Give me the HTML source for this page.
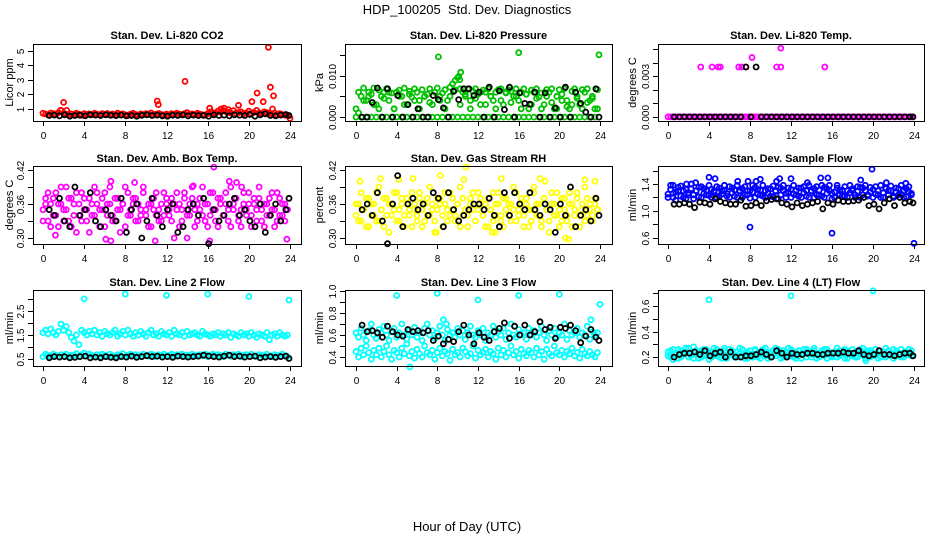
<!DOCTYPE html>
<html><head><meta charset="utf-8"><style>
html,body{margin:0;padding:0;background:#fff;}
svg{display:block;font-family:"Liberation Sans",Arial,sans-serif;}
</style></head><body>
<svg id="chart" width="936" height="540" viewBox="0 0 936 540" xmlns="http://www.w3.org/2000/svg">
<text x="467" y="14" font-size="13" text-anchor="middle">HDP_100205&#160; Std. Dev. Diagnostics</text>
<text x="467" y="531" font-size="13" text-anchor="middle">Hour of Day (UTC)</text>
</svg>
<script>
const H96=[0,.25,.5,.75,1,1.25,1.5,1.75,2,2.25,2.5,2.75,3,3.25,3.5,3.75,4,4.25,4.5,4.75,5,5.25,5.5,5.75,6,6.25,6.5,6.75,7,7.25,7.5,7.75,8,8.25,8.5,8.75,9,9.25,9.5,9.75,10,10.25,10.5,10.75,11,11.25,11.5,11.75,12,12.25,12.5,12.75,13,13.25,13.5,13.75,14,14.25,14.5,14.75,15,15.25,15.5,15.75,16,16.25,16.5,16.75,17,17.25,17.5,17.75,18,18.25,18.5,18.75,19,19.25,19.5,19.75,20,20.25,20.5,20.75,21,21.25,21.5,21.75,22,22.25,22.5,22.75,23,23.25,23.5,23.75];
const H48=[.6,1.1,1.6,2.1,2.6,3.1,3.6,4.1,4.6,5.1,5.6,6.1,6.6,7.1,7.6,8.1,8.6,9.1,9.6,10.1,10.6,11.1,11.6,12.1,12.6,13.1,13.6,14.1,14.6,15.1,15.6,16.1,16.6,17.1,17.6,18.1,18.6,19.1,19.6,20.1,20.6,21.1,21.6,22.1,22.6,23.1,23.6,23.9];
const xTicks=[0,4,8,12,16,20,24];

// CO2
const co2Vals=[0.7,0.65,0.6,0.72,0.68,0.62,0.75,0.9,0.7,0.64,0.58,0.66,0.6,0.7,0.63,0.57,0.68,0.61,0.66,0.59,0.7,0.64,0.6,0.67,0.62,0.69,0.58,0.65,0.6,0.71,0.63,0.66,0.6,0.55,0.64,0.7,0.62,0.58,0.66,0.61,0.68,0.63,0.72,0.6,0.65,0.69,0.62,0.57,0.64,0.6,0.67,0.63,0.7,0.65,0.6,0.68,0.74,0.62,0.66,0.6,0.7,0.64,0.6,0.58,0.67,0.8,0.75,0.7,0.85,0.78,0.9,0.82,0.76,0.72,0.88,0.7,0.74,0.8,0.68,0.72,0.85,0.7,0.76,0.9,0.72,0.68,0.8,0.75,0.7,0.65,0.72,0.6,0.68,0.62,0.58,0.55];
const co2OutHours=[1.7,2,2.3,11.1,11.2,13.8,16.2,17.3,17.6,18,19,20.3,20.8,21.4,21.9,22.1,22.3,22.4,24];
const co2OutVals=[0.9,1.45,0.9,1.55,1.3,2.9,1.05,1.0,1.05,0.95,1.25,1.5,2.1,1.5,5.25,2.5,1.0,1.9,0.35];
const co2Black=[0.55,0.58,0.52,0.6,0.5,0.55,0.57,0.52,0.6,0.58,0.55,0.6,0.57,0.54,0.58,0.52,0.55,0.5,0.56,0.6,0.55,0.58,0.53,0.5,0.57,0.55,0.6,0.52,0.58,0.54,0.56,0.5,0.6,0.55,0.58,0.52,0.6,0.57,0.55,0.62,0.5,0.6,0.66,0.55,0.52,0.58,0.62,0.55];

// Pressure
const presVals=[0.002,0.006,0.005,0.007,0.004,0.006,0.0055,0.007,0.003,0.0065,0.005,0.006,0.0068,0.004,0.0058,0.002,0.006,0.0065,0.005,0.007,0.003,0.0062,0.0048,0.0068,0.006,0.004,0.0066,0.005,0.0055,0.0068,0.003,0.006,0.007,0.005,0.0058,0.0066,0.004,0.0072,0.008,0.0088,0.0095,0.0068,0.006,0.005,0.0068,0.004,0.0062,0.0068,0.0055,0.003,0.0065,0.006,0.0068,0.005,0.004,0.006,0.0066,0.0068,0.003,0.0058,0.0066,0.0062,0.005,0.0068,0.004,0.006,0.0068,0.0055,0.002,0.0065,0.006,0.0068,0.0048,0.0058,0.003,0.0066,0.006,0.0068,0.002,0.005,0.0066,0.0055,0.0068,0.004,0.002,0.0062,0.0068,0.005,0.003,0.0066,0.006,0.0068,0.004,0.0045,0.002,0.0066];
const presVals2=[0,0.001,0,0.004,0,0.005,0,0.003,0,0.002,0,0.0045,0,0.006,0,0.002,0,0.005,0,0.003,0,0.0055,0,0.004,0,0.002,0,0.005,0,0.0035,0,0.006,0,0.004,0,0.002,0,0.005,0,0.0065,0,0.003,0,0.0055,0,0.002,0,0.0045,0,0.006,0,0.003,0,0.005,0,0.002,0,0.004,0,0.006,0,0.0035,0,0.005,0,0.002,0,0.0055,0,0.003,0,0.0045,0,0.002,0,0.005,0,0.0035,0,0.002,0,0.004,0,0.0025,0,0.003,0,0.0045,0,0.002,0,0.0035,0,0.005,0,0.002];
const presOutHours=[8.1,10.1,10.3,10.2,16,23.9];
const presOutVals=[0.0145,0.0098,0.0108,0.009,0.0155,0.015];
const presBlack=[0,0,0.0035,0.007,0,0.0068,0,0.0052,0,0.003,0,0.002,0,0,0.0052,0.0042,0.0022,0,0.0062,0.0042,0.0068,0.0068,0.0052,0.006,0,0.0072,0,0.0063,0.0018,0.0072,0,0.0058,0.0033,0.0031,0.006,0,0.0058,0,0.0022,0,0.0072,0,0.006,0.0033,0.0012,0,0.0068,0];

// Temp
const tempVals=[0,0,0,0,0,0,0,0,0,0,0,0,0,0,0,0,0,0,0,0,0,0,0,0,0,0,0,0,0,0,0,0,0,0,0,0,0,0,0,0,0,0,0,0,0,0,0,0,0,0,0,0,0,0,0,0,0,0,0,0,0,0,0,0,0,0,0,0,0,0,0,0,0,0,0,0,0,0,0,0,0,0,0,0,0,0,0,0,0,0,0,0,0,0,0,0];
const tempOutHours=[3.2,4.3,4.9,5.1,6.9,7.2,7.6,8.2,10.6,11.0,11.0,15.3];
const tempOutVals=[0.0037,0.0037,0.0037,0.0037,0.0037,0.0037,0.0037,0.0044,0.0037,0.0037,0.0051,0.0037];
const tempBlack=[0,0,0,0,0,0,0,0,0,0,0,0,0,0,0.0037,0,0.0037,0,0,0,0,0,0,0,0,0,0,0,0,0,0,0,0,0,0,0,0,0,0,0,0,0,0,0,0,0,0,0];

// Amb box temp
const ambVals=[0.35,0.37,0.33,0.36,0.34,0.38,0.32,0.36,0.35,0.39,0.33,0.37,0.34,0.31,0.36,0.38,0.35,0.33,0.37,0.34,0.39,0.36,0.32,0.35,0.38,0.34,0.36,0.33,0.37,0.35,0.31,0.36,0.39,0.34,0.35,0.37,0.33,0.36,0.34,0.38,0.35,0.32,0.36,0.37,0.34,0.35,0.33,0.38,0.36,0.34,0.37,0.3,0.35,0.36,0.33,0.38,0.35,0.34,0.37,0.32,0.36,0.35,0.39,0.33,0.36,0.34,0.38,0.35,0.32,0.37,0.34,0.36,0.33,0.39,0.35,0.37,0.34,0.32,0.36,0.35,0.38,0.34,0.36,0.33,0.37,0.35,0.32,0.36,0.34,0.38,0.35,0.33,0.37,0.34,0.36,0.35];
const ambVals2=[0.33,0.36,0.38,0.32,0.37,0.34,0.36,0.39,0.33,0.35,0.37,0.32,0.36,0.38,0.34,0.33,0.37,0.35,0.31,0.36,0.34,0.38,0.35,0.37,0.32,0.36,0.39,0.34,0.33,0.37,0.35,0.36,0.32,0.38,0.34,0.36,0.37,0.33,0.35,0.39,0.34,0.36,0.32,0.35,0.38,0.33,0.36,0.34,0.37,0.35,0.33,0.36,0.38,0.32,0.35,0.37,0.34,0.36,0.39,0.35,0.33,0.37,0.34,0.36,0.32,0.38,0.35,0.33,0.37,0.36,0.34,0.38,0.35,0.32,0.36,0.37,0.33,0.35,0.38,0.34,0.36,0.32,0.37,0.35,0.39,0.33,0.36,0.34,0.37,0.35,0.32,0.38,0.34,0.36,0.33,0.35];
const ambOutHours=[6.6,16.6,18.1,18.8,1.2,6.1,6.6,10.9,14,16.2,23.7,8.9,14.6,19.3];
const ambOutVals=[0.40,0.425,0.40,0.398,0.305,0.298,0.295,0.295,0.30,0.295,0.298,0.398,0.392,0.39];
const ambBlack=[0.35,0.34,0.37,0.33,0.32,0.39,0.34,0.35,0.38,0.33,0.32,0.35,0.34,0.33,0.37,0.31,0.35,0.36,0.3,0.33,0.37,0.34,0.32,0.35,0.36,0.31,0.32,0.35,0.36,0.34,0.37,0.29,0.35,0.33,0.34,0.36,0.37,0.34,0.35,0.33,0.32,0.36,0.31,0.34,0.36,0.33,0.35,0.37];

// RH
const rhVals=[0.34,0.36,0.33,0.35,0.37,0.32,0.36,0.34,0.38,0.33,0.35,0.37,0.34,0.31,0.36,0.35,0.38,0.33,0.36,0.34,0.37,0.35,0.32,0.36,0.34,0.38,0.35,0.33,0.37,0.34,0.36,0.31,0.35,0.37,0.34,0.36,0.33,0.38,0.35,0.34,0.36,0.32,0.37,0.35,0.34,0.36,0.38,0.33,0.35,0.37,0.34,0.36,0.32,0.35,0.38,0.34,0.36,0.33,0.37,0.35,0.34,0.36,0.39,0.33,0.35,0.37,0.34,0.36,0.32,0.35,0.38,0.34,0.36,0.33,0.37,0.35,0.31,0.36,0.34,0.38,0.35,0.33,0.37,0.34,0.36,0.32,0.35,0.38,0.34,0.36,0.33,0.37,0.35,0.34,0.36,0.35];
const rhVals2=[0.36,0.33,0.38,0.35,0.32,0.37,0.34,0.36,0.33,0.39,0.35,0.32,0.37,0.36,0.34,0.38,0.33,0.35,0.37,0.32,0.36,0.34,0.38,0.35,0.33,0.37,0.32,0.36,0.34,0.39,0.35,0.33,0.37,0.36,0.32,0.38,0.35,0.34,0.37,0.33,0.36,0.39,0.34,0.35,0.32,0.37,0.35,0.33,0.38,0.36,0.34,0.32,0.37,0.35,0.33,0.36,0.38,0.34,0.32,0.37,0.36,0.33,0.35,0.38,0.34,0.36,0.32,0.37,0.35,0.33,0.39,0.36,0.34,0.32,0.37,0.35,0.33,0.38,0.36,0.34,0.32,0.37,0.35,0.33,0.38,0.36,0.34,0.37,0.32,0.35,0.39,0.34,0.36,0.33,0.37,0.35];
const rhOutHours=[0.4,2.4,4.2,5.6,7.9,8.3,10.8,10.6,13.4,13.7,14.3,18.1,18.6,20.6,20.9,22.5,23.5,7.8];
const rhOutVals=[0.40,0.405,0.403,0.405,0.31,0.41,0.425,0.403,0.31,0.31,0.405,0.405,0.4,0.3,0.298,0.403,0.4,0.31];
const rhBlack=[0.35,0.36,0.34,0.38,0.33,0.29,0.36,0.41,0.32,0.36,0.37,0.35,0.36,0.34,0.38,0.37,0.32,0.38,0.35,0.33,0.34,0.35,0.36,0.36,0.35,0.37,0.34,0.32,0.38,0.34,0.38,0.36,0.35,0.38,0.35,0.34,0.36,0.35,0.31,0.36,0.34,0.39,0.32,0.34,0.35,0.33,0.37,0.34];

// Sample flow
const flowVals=[1.25,1.32,1.2,1.28,1.35,1.22,1.3,1.18,1.27,1.33,1.24,1.3,1.21,1.36,1.26,1.3,1.23,1.32,1.28,1.2,1.34,1.25,1.3,1.22,1.36,1.27,1.31,1.2,1.29,1.33,1.24,1.3,1.19,1.28,1.35,1.25,1.31,1.22,1.3,1.26,1.33,1.21,1.29,1.35,1.24,1.3,1.2,1.28,1.32,1.25,1.3,1.22,1.34,1.27,1.3,1.2,1.29,1.33,1.24,1.31,1.22,1.35,1.26,1.3,1.18,1.28,1.34,1.25,1.31,1.22,1.3,1.27,1.33,1.2,1.29,1.35,1.24,1.3,1.22,1.28,1.32,1.25,1.3,1.2,1.27,1.34,1.24,1.3,1.22,1.28,1.33,1.25,1.3,1.21,1.28,1.26];
const flowVals2=[1.2,1.38,1.26,1.16,1.3,1.37,1.2,1.32,1.24,1.4,1.18,1.3,1.35,1.2,1.33,1.24,1.38,1.2,1.3,1.36,1.22,1.3,1.38,1.26,1.2,1.34,1.22,1.38,1.3,1.2,1.36,1.24,1.3,1.38,1.2,1.32,1.24,1.38,1.2,1.33,1.22,1.37,1.3,1.18,1.34,1.38,1.26,1.34,1.2,1.38,1.24,1.34,1.2,1.36,1.22,1.38,1.3,1.2,1.36,1.24,1.38,1.2,1.33,1.38,1.26,1.2,1.38,1.3,1.22,1.36,1.2,1.38,1.3,1.24,1.36,1.2,1.34,1.38,1.24,1.35,1.2,1.36,1.24,1.38,1.2,1.33,1.3,1.37,1.2,1.34,1.24,1.38,1.2,1.33,1.36,1.24];
const flowOutHours=[4,4.6,6.8,7.8,8.6,9,10.6,10.9,12,14.9,15.6,19.9,8,16,24,18.8,0.5,1.8,2.3,2.7,13.6,21.3,23.2];
const flowOutVals=[1.5,1.48,1.44,1.44,1.44,1.47,1.44,1.48,1.48,1.49,1.49,1.62,0.76,0.67,0.52,1.46,1.38,1.4,1.4,1.42,1.42,1.42,1.41];
const flowBlack=[1.1,1.1,1.12,1.1,1.05,1.13,1.12,1.1,1.18,1.14,1.12,1.1,1.1,1.16,1.07,1.08,1.12,1.08,1.15,1.17,1.18,1.12,1.1,1.06,1.12,1.08,1.1,1.12,1.14,1.03,1.12,1.1,1.16,1.14,1.14,1.15,1.16,1.2,1.08,1.1,1.03,1.12,1.18,1.08,1.2,1.12,1.14,1.12];

// Line 2 flow
const l2Upper=[1.6,1.7,1.55,1.75,1.6,1.5,1.65,1.95,1.7,1.85,1.6,1.4,1.25,1.5,1.1,1.7,1.6,1.5,1.65,1.55,1.7,1.5,1.6,1.45,1.65,1.55,1.5,1.6,1.7,1.45,1.55,1.65,1.5,1.7,1.55,1.45,1.6,1.5,1.65,1.55,1.45,1.6,1.7,1.5,1.55,1.45,1.65,1.55,1.5,1.6,1.45,1.7,1.55,1.5,1.6,1.45,1.65,1.5,1.55,1.6,1.5,1.45,1.65,1.55,1.5,1.45,1.55,1.5,1.6,1.45,1.55,1.5,1.6,1.4,1.55,1.5,1.45,1.6,1.5,1.55,1.45,1.6,1.5,1.4,1.55,1.5,1.45,1.6,1.3,1.5,1.55,1.45,1.6,1.5,1.45,1.5];
const l2Lower=[0.6,0.7,0.65,0.6,0.7,0.65,0.6,0.68,0.62,0.7,0.6,0.66,0.65,0.72,0.6,0.68,0.75,0.62,0.7,0.65,0.6,0.68,0.62,0.7,0.65,0.6,0.7,0.64,0.6,0.68,0.65,0.72,0.6,0.66,0.7,0.62,0.68,0.64,0.6,0.7,0.65,0.62,0.7,0.66,0.6,0.68,0.64,0.7,0.62,0.66,0.7,0.6,0.68,0.64,0.7,0.62,0.66,0.6,0.7,0.65,0.62,0.68,0.64,0.7,0.6,0.66,0.7,0.62,0.68,0.64,0.6,0.7,0.66,0.62,0.68,0.64,0.7,0.6,0.66,0.68,0.62,0.7,0.64,0.6,0.68,0.66,0.62,0.7,0.64,0.6,0.68,0.65,0.62,0.7,0.64,0.6];
const l2OutHours=[4,8,12,16,20,23.9];
const l2OutVals=[3.0,3.2,3.15,3.2,3.1,2.95];
const l2Black=[0.55,0.6,0.58,0.6,0.55,0.57,0.6,0.62,0.55,0.58,0.55,0.6,0.57,0.55,0.6,0.58,0.62,0.57,0.6,0.64,0.6,0.62,0.58,0.6,0.57,0.62,0.6,0.58,0.6,0.62,0.66,0.62,0.6,0.58,0.62,0.66,0.6,0.62,0.58,0.6,0.62,0.55,0.58,0.6,0.57,0.6,0.62,0.52];

// Line 3 flow
const l3Upper=[0.62,0.58,0.66,0.6,0.55,0.64,0.7,0.6,0.57,0.65,0.62,0.68,0.6,0.55,0.63,0.66,0.58,0.62,0.7,0.6,0.56,0.64,0.6,0.67,0.58,0.62,0.55,0.66,0.7,0.6,0.64,0.57,0.62,0.68,0.6,0.55,0.65,0.6,0.62,0.58,0.66,0.6,0.64,0.56,0.62,0.68,0.6,0.58,0.64,0.6,0.66,0.55,0.62,0.6,0.68,0.58,0.63,0.6,0.66,0.56,0.62,0.7,0.6,0.58,0.65,0.6,0.62,0.56,0.66,0.6,0.64,0.58,0.62,0.68,0.6,0.55,0.64,0.6,0.66,0.58,0.62,0.6,0.7,0.56,0.64,0.6,0.62,0.66,0.58,0.62,0.6,0.68,0.56,0.63,0.6,0.62];
const l3Lower=[0.45,0.4,0.48,0.42,0.5,0.44,0.38,0.46,0.42,0.48,0.4,0.45,0.5,0.42,0.38,0.46,0.44,0.4,0.48,0.43,0.52,0.41,0.45,0.39,0.47,0.43,0.4,0.5,0.44,0.42,0.46,0.38,0.44,0.48,0.41,0.45,0.43,0.37,0.47,0.42,0.44,0.4,0.48,0.45,0.41,0.43,0.5,0.39,0.46,0.42,0.44,0.47,0.4,0.45,0.43,0.38,0.48,0.42,0.46,0.4,0.44,0.5,0.42,0.45,0.39,0.47,0.43,0.41,0.46,0.44,0.4,0.48,0.42,0.45,0.38,0.47,0.43,0.41,0.5,0.44,0.42,0.46,0.4,0.45,0.43,0.48,0.41,0.44,0.39,0.47,0.43,0.41,0.45,0.42,0.4,0.44];
const l3OutHours=[4,8,12,16,20,24,5.3,8.6,8.9,23.1];
const l3OutVals=[0.96,0.98,0.92,0.96,0.97,0.88,0.31,0.74,0.7,0.74];
const l3Black=[0.69,0.63,0.64,0.62,0.58,0.68,0.63,0.6,0.59,0.65,0.63,0.64,0.62,0.64,0.55,0.59,0.52,0.56,0.54,0.63,0.69,0.6,0.52,0.62,0.58,0.55,0.63,0.66,0.71,0.57,0.68,0.6,0.69,0.6,0.63,0.72,0.65,0.67,0.57,0.67,0.66,0.69,0.64,0.53,0.59,0.65,0.58,0.55];

// Line 4 flow
const l4Vals=[0.24,0.2,0.26,0.22,0.19,0.25,0.23,0.27,0.2,0.24,0.28,0.22,0.19,0.25,0.21,0.26,0.23,0.2,0.27,0.22,0.24,0.19,0.25,0.21,0.26,0.22,0.2,0.24,0.27,0.21,0.23,0.19,0.25,0.22,0.26,0.2,0.24,0.22,0.27,0.19,0.23,0.25,0.21,0.26,0.22,0.2,0.24,0.27,0.21,0.23,0.19,0.25,0.22,0.26,0.2,0.24,0.22,0.27,0.19,0.23,0.25,0.21,0.26,0.22,0.2,0.24,0.27,0.21,0.23,0.19,0.25,0.22,0.26,0.2,0.24,0.22,0.27,0.19,0.23,0.25,0.21,0.26,0.22,0.2,0.24,0.27,0.21,0.23,0.19,0.25,0.22,0.26,0.2,0.24,0.22,0.25];
const l4Vals2=[0.21,0.25,0.18,0.23,0.26,0.2,0.22,0.24,0.27,0.21,0.19,0.25,0.23,0.2,0.26,0.22,0.18,0.24,0.21,0.26,0.2,0.23,0.27,0.19,0.22,0.25,0.21,0.2,0.23,0.26,0.19,0.24,0.22,0.2,0.25,0.23,0.19,0.26,0.21,0.24,0.2,0.22,0.27,0.23,0.19,0.25,0.21,0.22,0.26,0.2,0.24,0.21,0.19,0.23,0.26,0.22,0.2,0.25,0.23,0.2,0.22,0.26,0.19,0.24,0.21,0.23,0.2,0.25,0.22,0.26,0.19,0.23,0.21,0.24,0.2,0.26,0.22,0.21,0.25,0.2,0.23,0.26,0.19,0.22,0.24,0.2,0.25,0.22,0.26,0.21,0.23,0.2,0.24,0.22,0.26,0.21];
const l4OutHours=[4,12,20,19.3];
const l4OutVals=[0.65,0.68,0.72,0.17];
const l4Black=[0.2,0.22,0.23,0.23,0.24,0.22,0.25,0.21,0.23,0.24,0.2,0.24,0.2,0.2,0.21,0.21,0.22,0.24,0.22,0.2,0.25,0.23,0.2,0.23,0.22,0.22,0.23,0.23,0.22,0.22,0.23,0.23,0.23,0.24,0.23,0.23,0.25,0.22,0.21,0.22,0.25,0.22,0.22,0.21,0.22,0.23,0.23,0.21];

const NS="http://www.w3.org/2000/svg";
const svg=document.getElementById('chart');
function mk(tag,attrs,parent){const e=document.createElementNS(NS,tag);for(const k in attrs)e.setAttribute(k,attrs[k]);(parent||svg).appendChild(e);return e;}

const cols=[{l:33,r:301,x0:43,x1:290,ylab:9},{l:345,r:612,x0:356,x1:600,ylab:319},{l:658,r:924,x0:668,x1:914,ylab:632}];
const rows=[{t:44,b:121,title:35},{t:166,b:244,title:158},{t:290,b:366,title:282}];

const panels=[
 {c:0,r:0,name:'co2',title:'Stan. Dev. Li-820 CO2',ylab:'Licor ppm',ylim:[0.17,5.48],ticks:[1,2,3,4,5],labels:['1','2','3','4','5'],color:'#ff0000',series:[[H96,co2Vals],[co2OutHours,co2OutVals]],black:co2Black},
 {c:1,r:0,name:'pressure',title:'Stan. Dev. Li-820 Pressure',ylab:'kPa',ylim:[-0.00095,0.0176],ticks:[0,0.005,0.01,0.015],labels:['0.000','','0.010',''],color:'#00c000',series:[[H96,presVals],[H96,presVals2],[presOutHours,presOutVals]],black:presBlack},
 {c:2,r:0,name:'temp',title:'Stan. Dev. Li-820 Temp.',ylab:'degrees C',ylim:[-0.0003,0.0054],ticks:[0,0.001,0.002,0.003,0.004,0.005],labels:['0.000','','','0.003','',''],color:'#ff00ff',series:[[H96,tempVals],[tempOutHours,tempOutVals]],black:tempBlack},
 {c:0,r:1,name:'amb-box-temp',title:'Stan. Dev. Amb. Box Temp.',ylab:'degrees C',ylim:[0.2895,0.427],ticks:[0.30,0.33,0.36,0.39,0.42],labels:['0.30','','0.36','','0.42'],color:'#ff00ff',series:[[H96,ambVals],[H96,ambVals2],[ambOutHours,ambOutVals]],black:ambBlack},
 {c:1,r:1,name:'gas-rh',title:'Stan. Dev. Gas Stream RH',ylab:'percent',ylim:[0.2895,0.427],ticks:[0.30,0.33,0.36,0.39,0.42],labels:['0.30','','0.36','','0.42'],color:'#ffff00',series:[[H96,rhVals],[H96,rhVals2],[rhOutHours,rhOutVals]],black:rhBlack},
 {c:2,r:1,name:'sample-flow',title:'Stan. Dev. Sample Flow',ylab:'ml/min',ylim:[0.51,1.667],ticks:[0.6,0.8,1.0,1.2,1.4,1.6],labels:['0.6','','1.0','','1.4',''],color:'#0000ff',series:[[H96,flowVals],[H96,flowVals2],[flowOutHours,flowOutVals]],black:flowBlack},
 {c:0,r:2,name:'line2-flow',title:'Stan. Dev. Line 2 Flow',ylab:'ml/min',ylim:[0.21,3.37],ticks:[0.5,1,1.5,2,2.5,3],labels:['0.5','','1.5','','2.5',''],color:'#00ffff',series:[[H96,l2Upper],[H96,l2Lower],[l2OutHours,l2OutVals]],black:l2Black},
 {c:1,r:2,name:'line3-flow',title:'Stan. Dev. Line 3 Flow',ylab:'ml/min',ylim:[0.318,1.01],ticks:[0.4,0.5,0.6,0.7,0.8,0.9,1.0],labels:['0.4','','0.6','','0.8','','1.0'],color:'#00ffff',series:[[H96,l3Upper],[H96,l3Lower],[l3OutHours,l3OutVals]],black:l3Black},
 {c:2,r:2,name:'line4-flow',title:'Stan. Dev. Line 4 (LT) Flow',ylab:'ml/min',ylim:[0.13,0.726],ticks:[0.2,0.3,0.4,0.5,0.6,0.7],labels:['0.2','','0.4','','0.6',''],color:'#00ffff',series:[[H96,l4Vals],[H96,l4Vals2],[l4OutHours,l4OutVals]],black:l4Black}
];

panels.forEach(p=>{
  const C=cols[p.c],R=rows[p.r];
  const xs=h=>C.x0+(h/24)*(C.x1-C.x0);
  const ys=v=>R.b-(v-p.ylim[0])/(p.ylim[1]-p.ylim[0])*(R.b-R.t);
  const g=mk('g',{});
  
  
  const t=mk('text',{x:(C.l+C.r)/2,y:R.title+4,'font-size':11,'font-weight':'bold','text-anchor':'middle'},g);
  t.textContent=p.title;
  
  
  const yl=mk('text',{x:C.ylab,y:(R.t+R.b)/2,'font-size':11,'text-anchor':'middle',transform:`rotate(-90 ${C.ylab} ${(R.t+R.b)/2})`,dy:4},g);
  yl.textContent=p.ylab;
  
  
  const mg=mk('g',{fill:'none','stroke-width':1.8},g);
  
  
  p.series.forEach(s=>{
    const hs=s[0],vs=s[1];
    for(let i=0;i<Math.min(hs.length,vs.length);i++){
      const c=mk('circle',{cx:xs(hs[i]).toFixed(1),cy:ys(vs[i]).toFixed(1),r:2.5,stroke:p.color},mg);
      
      
    }
  });
  for(let i=0;i<Math.min(H48.length,p.black.length);i++){
    const c=mk('circle',{cx:xs(H48[i]).toFixed(1),cy:ys(p.black[i]).toFixed(1),r:2.5,stroke:'#000'},mg);
    
    
  }
  const box=mk('rect',{x:C.l+0.5,y:R.t+0.5,width:C.r-C.l,height:R.b-R.t,fill:'none',stroke:'#000','stroke-width':1},g);
  
  
  const ax=mk('g',{stroke:'#000','stroke-width':1},g);
  
  
  mk('line',{x1:xs(0),x2:xs(24),y1:R.b+0.5,y2:R.b+0.5},ax);
  xTicks.forEach(v=>{
    const x=Math.round(xs(v))+0.5;
    mk('line',{x1:x,x2:x,y1:R.b,y2:R.b+5},ax);
    const tl=mk('text',{x:x,y:R.b+18,'font-size':10,'text-anchor':'middle',stroke:'none',fill:'#000'},g);
    tl.textContent=v;
    
    
  });
  const ay=mk('g',{stroke:'#000','stroke-width':1},g);
  
  
  mk('line',{x1:C.l+0.5,x2:C.l+0.5,y1:ys(p.ticks[0]),y2:ys(p.ticks[p.ticks.length-1])},ay);
  p.ticks.forEach((v,i)=>{
    const y=Math.round(ys(v))+0.5;
    mk('line',{x1:C.l-5,x2:C.l,y1:y,y2:y},ay);
    if(p.labels[i]){
      const lx=C.l-9;
      const tl=mk('text',{x:lx,y:y,'font-size':10,'text-anchor':'middle',transform:`rotate(-90 ${lx} ${y})`},g);
      tl.textContent=p.labels[i];
      
      
    }
  });
});
</script>
</body></html>
